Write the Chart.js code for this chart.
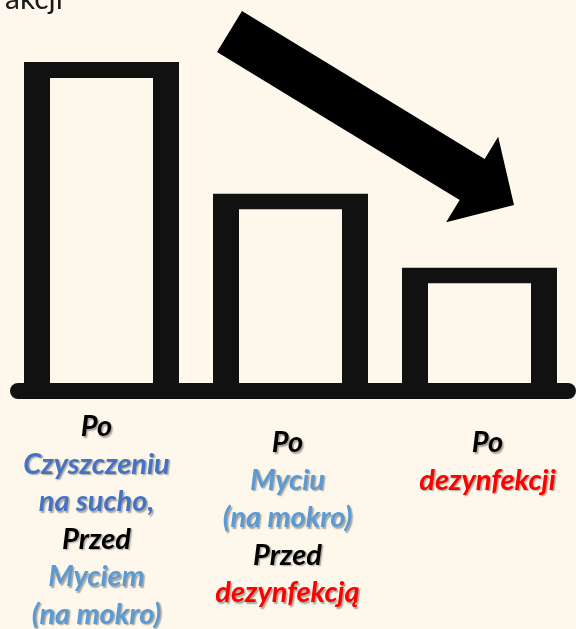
<!DOCTYPE html>
<html>
<head>
<meta charset="utf-8">
<script src="https://cdn.jsdelivr.net/npm/chart.js@4"></script>
<style>
  html, body { margin: 0; padding: 0; background: #FEF8EC; }
  #wrap { width: 576px; height: 629px; overflow: hidden; }
  canvas { display: block; }
</style>
</head>
<body>
<div id="wrap"><canvas id="c" width="576" height="629"></canvas></div>
<script>
// Stages of cleaning, one bar per stage (each label line is its own entry)
const categories = [
  ["Po", "Czyszczeniu", "na sucho,", "Przed", "Myciem", "(na mokro)"],
  ["Po", "Myciu", "(na mokro)", "Przed", "dezynfekcją"],
  ["Po", "dezynfekcji"]
];
// Relative contamination level after each stage
const levels = [100, 59, 36];
// Which step each label line refers to (used to pick its colour)
const lineSteps = [
  ["plain", "dry", "dry", "plain", "wash", "wash"],
  ["plain", "wash", "wash", "plain", "disinfect"],
  ["plain", "disinfect"]
];
// Heading fragment at the top edge
const headingText = "rakcji";

const PAPER = "#FEF8EC";
const INK = "#111111";
const stepColours = { plain: "#000000", dry: "#4472C4", wash: "#5B9BD5", disinfect: "#FF0000" };

// Heading, down-trend arrow and the thick base line
const decorPlugin = {
  id: "decor",
  beforeDatasetsDraw(chart) {
    const ctx = chart.ctx;
    ctx.save();
    ctx.font = "30px Lato";
    ctx.fillStyle = "#1a1a1a";
    ctx.textAlign = "right";
    ctx.textBaseline = "alphabetic";
    ctx.fillText(headingText, 63, 9);
    ctx.restore();
  },
  afterDatasetsDraw(chart) {
    const ctx = chart.ctx;
    const area = chart.chartArea;
    const y = chart.scales.y;
    const base = y.getPixelForValue(0);

    // base line with rounded ends
    ctx.save();
    ctx.strokeStyle = INK;
    ctx.lineWidth = 16;
    ctx.lineCap = "round";
    ctx.beginPath();
    ctx.moveTo(18, base + 8);
    ctx.lineTo(area.right - 6, base + 8);
    ctx.stroke();
    ctx.restore();

    // arrow pointing down to the right
    const tail = { x: 229.5, y: 31.5 };
    const tip = { x: 514, y: 205 };
    const shaftW = 48, headW = 100, headL = 49;
    const dx = tip.x - tail.x, dy = tip.y - tail.y;
    const len = Math.hypot(dx, dy);
    const ux = dx / len, uy = dy / len;
    const nx = -uy, ny = ux;
    const hb = { x: tip.x - ux * headL, y: tip.y - uy * headL };
    const pts = [
      [tail.x + nx * shaftW / 2, tail.y + ny * shaftW / 2],
      [hb.x + nx * shaftW / 2, hb.y + ny * shaftW / 2],
      [hb.x + nx * headW / 2, hb.y + ny * headW / 2],
      [tip.x, tip.y],
      [hb.x - nx * headW / 2, hb.y - ny * headW / 2],
      [hb.x - nx * shaftW / 2, hb.y - ny * shaftW / 2],
      [tail.x - nx * shaftW / 2, tail.y - ny * shaftW / 2]
    ];
    ctx.save();
    ctx.fillStyle = "#000000";
    ctx.beginPath();
    pts.forEach((p, i) => i ? ctx.lineTo(p[0], p[1]) : ctx.moveTo(p[0], p[1]));
    ctx.closePath();
    ctx.fill();
    ctx.restore();
  }
};

// Multi-coloured category labels under the bars
const stageLabelPlugin = {
  id: "stageLabels",
  afterDraw(chart, args, opts) {
    const ctx = chart.ctx;
    const x = chart.scales.x;
    const base = chart.scales.y.getPixelForValue(0);
    ctx.save();
    ctx.font = "italic 700 " + opts.size + "px Lato";
    ctx.textAlign = "center";
    ctx.textBaseline = "alphabetic";
    ctx.shadowColor = "rgba(0,0,0,0.35)";
    ctx.shadowOffsetX = 1.5;
    ctx.shadowOffsetY = 1.5;
    ctx.shadowBlur = 1.5;
    categories.forEach((lines, i) => {
      const cx = x.getPixelForValue(i) + opts.shift[i];
      lines.forEach((line, j) => {
        ctx.fillStyle = stepColours[lineSteps[i][j]];
        ctx.fillText(line, cx, base + opts.first[i] + j * opts.lineHeight);
      });
    });
    ctx.restore();
  }
};

new Chart(document.getElementById("c"), {
  type: "bar",
  data: {
    labels: categories,
    datasets: [{
      data: levels,
      backgroundColor: PAPER,
      borderColor: INK,
      borderWidth: { top: 16, left: 26, right: 26, bottom: 0 },
      borderSkipped: "bottom",
      barPercentage: 0.82,
      categoryPercentage: 1
    }]
  },
  options: {
    responsive: false,
    animation: false,
    devicePixelRatio: 1,
    layout: { padding: { top: 62, left: 7, right: 2, bottom: 246 } },
    scales: {
      x: { display: false },
      y: { display: false, min: 0, max: 100 }
    },
    plugins: {
      legend: { display: false },
      tooltip: { enabled: false },
      stageLabels: { size: 29, lineHeight: 37.5, first: [53, 69, 69], shift: [-5, -3, 8] }
    }
  },
  plugins: [decorPlugin, stageLabelPlugin]
});
</script>
</body>
</html>
